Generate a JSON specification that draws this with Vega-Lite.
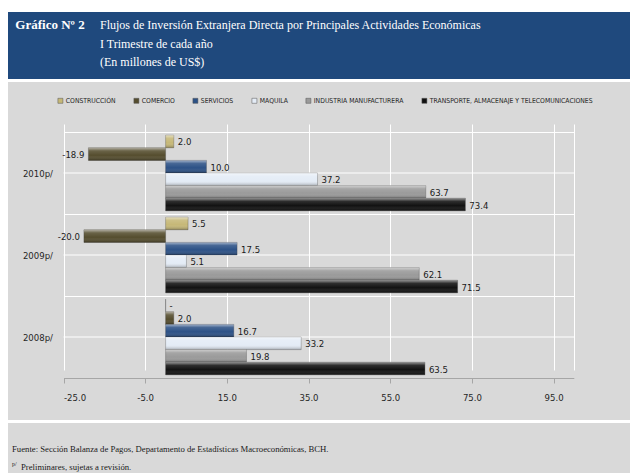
{
  "$schema": "https://vega.github.io/schema/vega-lite/v6.json",
  "background": "#ffffff",
  "padding": {"top": 12, "left": 8, "right": 0, "bottom": 0},
  "bounds": "flush",
  "spacing": 3,
  "resolve": {"legend": {"color": "independent"}},
  "config": {
    "font": "DejaVu Sans Condensed, Liberation Sans, sans-serif",
    "view": {"stroke": null}
  },
  "vconcat": [
    {
      "width": 622,
      "height": 67,
      "view": {"fill": "#1f497d", "stroke": null},
      "encoding": {
        "y": {"field": "line", "type": "ordinal", "scale": {"type": "point", "padding": 0.8, "domain": [1, 2, 3]}, "axis": null}
      },
      "layer": [
        {
          "mark": {"type": "rule", "color": "#ffffff", "strokeWidth": 2},
          "encoding": {"x": {"datum": 83.5, "type": "quantitative", "scale": {"domain": [0, 622]}, "axis": null}, "y": null}
        },
        {
          "data": {"values": [{"line": 1, "t": "Gráfico Nº 2"}]},
          "mark": {"type": "text", "font": "Liberation Serif", "fontSize": 13, "fontWeight": "bold", "color": "#ffffff", "align": "center", "baseline": "middle", "dy": -2},
          "encoding": {
            "x": {"datum": 42, "type": "quantitative", "scale": {"domain": [0, 622]}, "axis": null},
            "text": {"field": "t", "type": "nominal"}
          }
        },
        {
          "data": {"values": [
            {"line": 1, "t": "Flujos de Inversión Extranjera Directa por Principales Actividades Económicas"},
            {"line": 2, "t": "I Trimestre de cada año"},
            {"line": 3, "t": "(En millones de US$)"}
          ]},
          "mark": {"type": "text", "font": "Liberation Serif", "fontSize": 12, "color": "#ffffff", "align": "left", "baseline": "middle", "dy": -2},
          "encoding": {
            "x": {"datum": 92, "type": "quantitative", "scale": {"domain": [0, 622]}, "axis": null},
            "text": {"field": "t", "type": "nominal"}
          }
        }
      ]
    },
    {
      "width": 622,
      "height": 338,
      "view": {"fill": "#d9d9d9", "stroke": null},
      "data": {"values": [
        {"year": "2010p/", "series": "CONSTRUCCIÓN", "v": 2.0},
        {"year": "2010p/", "series": "COMERCIO", "v": -18.9},
        {"year": "2010p/", "series": "SERVICIOS", "v": 10.0},
        {"year": "2010p/", "series": "MAQUILA", "v": 37.2},
        {"year": "2010p/", "series": "INDUSTRIA MANUFACTURERA", "v": 63.7},
        {"year": "2010p/", "series": "TRANSPORTE, ALMACENAJE Y TELECOMUNICACIONES", "v": 73.4},
        {"year": "2009p/", "series": "CONSTRUCCIÓN", "v": 5.5},
        {"year": "2009p/", "series": "COMERCIO", "v": -20.0},
        {"year": "2009p/", "series": "SERVICIOS", "v": 17.5},
        {"year": "2009p/", "series": "MAQUILA", "v": 5.1},
        {"year": "2009p/", "series": "INDUSTRIA MANUFACTURERA", "v": 62.1},
        {"year": "2009p/", "series": "TRANSPORTE, ALMACENAJE Y TELECOMUNICACIONES", "v": 71.5},
        {"year": "2008p/", "series": "CONSTRUCCIÓN", "v": 0},
        {"year": "2008p/", "series": "COMERCIO", "v": 2.0},
        {"year": "2008p/", "series": "SERVICIOS", "v": 16.7},
        {"year": "2008p/", "series": "MAQUILA", "v": 33.2},
        {"year": "2008p/", "series": "INDUSTRIA MANUFACTURERA", "v": 19.8},
        {"year": "2008p/", "series": "TRANSPORTE, ALMACENAJE Y TELECOMUNICACIONES", "v": 63.5}
      ]},
      "transform": [
        {"calculate": "datum.v === 0 ? '-' : replace(format(datum.v, '.1f'), '\u2212', '-')", "as": "label"}
      ],
      "encoding": {
        "y": {"field": "year", "type": "nominal", "sort": ["2010p/", "2009p/", "2008p/"], "scale": {"paddingInner": 0, "paddingOuter": 0, "range": [50, 296]},
          "axis": {"title": null, "domain": false, "ticks": false, "grid": true, "tickBand": "extent", "gridColor": "#ffffff", "gridWidth": 1, "offset": -55.5, "labelPadding": 11, "labelFontSize": 9.5, "labelColor": "#262626"}}
      },
      "layer": [
        {
          "transform": [{"aggregate": [{"op": "count", "as": "n"}], "groupby": ["year"]}],
          "mark": {"type": "rule", "color": "#ffffff", "strokeWidth": 1},
          "encoding": {
            "x": {"datum": -25, "type": "quantitative"},
            "x2": {"datum": 100}
          }
        },
        {
          "transform": [{"aggregate": [{"op": "count", "as": "n"}], "groupby": ["year"]}],
          "mark": {"type": "rule", "color": "#8c8c8c", "strokeWidth": 1.5},
          "encoding": {"x": {"datum": 0, "type": "quantitative"}}
        },
        {
          "mark": {"type": "bar", "stroke": "#3a3a3a", "strokeWidth": 0.5, "strokeOpacity": 0.6},
          "encoding": {
            "yOffset": {"field": "series", "type": "nominal", "sort": ["CONSTRUCCIÓN", "COMERCIO", "SERVICIOS", "MAQUILA", "INDUSTRIA MANUFACTURERA", "TRANSPORTE, ALMACENAJE Y TELECOMUNICACIONES"], "scale": {"paddingInner": 0, "paddingOuter": 0.25}},
            "x": {"field": "v", "type": "quantitative", "scale": {"domain": [-25, 100], "nice": false, "zero": false, "range": [55.5, 566]},
              "axis": {"title": null, "values": [-25, -5, 15, 35, 55, 75, 95, 100], "offset": -42,
                "labelExpr": "datum.value === 100 ? '' : replace(format(datum.value, '.1f'), '\u2212', '-')",
                "grid": true, "gridColor": "#ffffff", "gridWidth": 1, "domainColor": "#a6a6a6", "tickColor": "#a6a6a6", "tickSize": 5,
                "tickOpacity": {"condition": {"test": "datum.value === 100", "value": 0}, "value": 1},
                "labelPadding": 9, "labelFontSize": 9.5, "labelColor": "#262626"}},
            "color": {"field": "series", "type": "nominal",
              "scale": {
                "domain": ["CONSTRUCCIÓN", "COMERCIO", "SERVICIOS", "MAQUILA", "INDUSTRIA MANUFACTURERA", "TRANSPORTE, ALMACENAJE Y TELECOMUNICACIONES"],
                "range": ["#c6b877", "#554d2e", "#2c5186", "#e4ecf6", "#9a9a9a", "#111111"]
              },
              "legend": {"orient": "none", "legendX": 49, "legendY": 15, "direction": "horizontal", "columns": 6, "title": null,
                "symbolType": "square", "symbolSize": 25, "symbolStrokeWidth": 0.5, "symbolStrokeColor": "#555555",
                "labelFontSize": 6.8, "labelColor": "#262626", "labelOffset": 2, "columnPadding": 16, "labelLimit": 300}
            }
          }
        },
        {
          "mark": {"type": "bar", "stroke": null,
            "color": {"gradient": "linear", "x1": 0, "y1": 0, "x2": 0, "y2": 1,
              "stops": [
                {"offset": 0, "color": "rgba(255,255,255,0.55)"},
                {"offset": 0.25, "color": "rgba(255,255,255,0.12)"},
                {"offset": 0.6, "color": "rgba(255,255,255,0)"},
                {"offset": 1, "color": "rgba(0,0,0,0.28)"}
              ]}},
          "encoding": {
            "yOffset": {"field": "series", "type": "nominal", "sort": ["CONSTRUCCIÓN", "COMERCIO", "SERVICIOS", "MAQUILA", "INDUSTRIA MANUFACTURERA", "TRANSPORTE, ALMACENAJE Y TELECOMUNICACIONES"]},
            "x": {"field": "v", "type": "quantitative"}
          }
        },
        {
          "transform": [{"filter": "datum.v >= 0"}],
          "mark": {"type": "text", "align": "left", "baseline": "middle", "dx": 4, "dy": 1, "fontSize": 9.5, "color": "#1a1a1a"},
          "encoding": {
            "yOffset": {"field": "series", "type": "nominal", "sort": ["CONSTRUCCIÓN", "COMERCIO", "SERVICIOS", "MAQUILA", "INDUSTRIA MANUFACTURERA", "TRANSPORTE, ALMACENAJE Y TELECOMUNICACIONES"]},
            "x": {"field": "v", "type": "quantitative"},
            "text": {"field": "label", "type": "nominal"}
          }
        },
        {
          "transform": [{"filter": "datum.v < 0"}],
          "mark": {"type": "text", "align": "right", "baseline": "middle", "dx": -4, "dy": 1, "fontSize": 9.5, "color": "#1a1a1a"},
          "encoding": {
            "yOffset": {"field": "series", "type": "nominal", "sort": ["CONSTRUCCIÓN", "COMERCIO", "SERVICIOS", "MAQUILA", "INDUSTRIA MANUFACTURERA", "TRANSPORTE, ALMACENAJE Y TELECOMUNICACIONES"]},
            "x": {"field": "v", "type": "quantitative"},
            "text": {"field": "label", "type": "nominal"}
          }
        }
      ]
    },
    {
      "width": 622,
      "height": 50,
      "view": {"fill": "#d9d9d9", "stroke": null},
      "data": {"values": [
        {"line": 1, "t": "Fuente: Sección Balanza de Pagos, Departamento de Estadísticas Macroeconómicas, BCH."},
        {"line": 2, "t": "Preliminares, sujetas a revisión."}
      ]},
      "encoding": {
        "x": {"datum": 0, "type": "quantitative", "scale": {"domain": [0, 1]}, "axis": null},
        "y": {"field": "line", "type": "ordinal", "scale": {"type": "point", "padding": 0.889}, "axis": null}
      },
      "layer": [
        {
          "transform": [{"filter": "datum.line === 1"}],
          "mark": {"type": "text", "align": "left", "baseline": "middle", "font": "Liberation Serif", "fontSize": 8.7, "color": "#1a1a1a", "dx": 4, "dy": 10},
          "encoding": {"text": {"field": "t", "type": "nominal"}}
        },
        {
          "transform": [{"filter": "datum.line === 2"}],
          "mark": {"type": "text", "align": "left", "baseline": "middle", "font": "Liberation Serif", "fontSize": 8.7, "color": "#1a1a1a", "dx": 13, "dy": 10},
          "encoding": {"text": {"field": "t", "type": "nominal"}}
        },
        {
          "transform": [{"filter": "datum.line === 2"}],
          "mark": {"type": "text", "align": "left", "baseline": "middle", "font": "Liberation Serif", "fontSize": 6, "color": "#1a1a1a", "dx": 4, "dy": 7},
          "encoding": {"text": {"value": "p/"}}
        }
      ]
    }
  ]
}
